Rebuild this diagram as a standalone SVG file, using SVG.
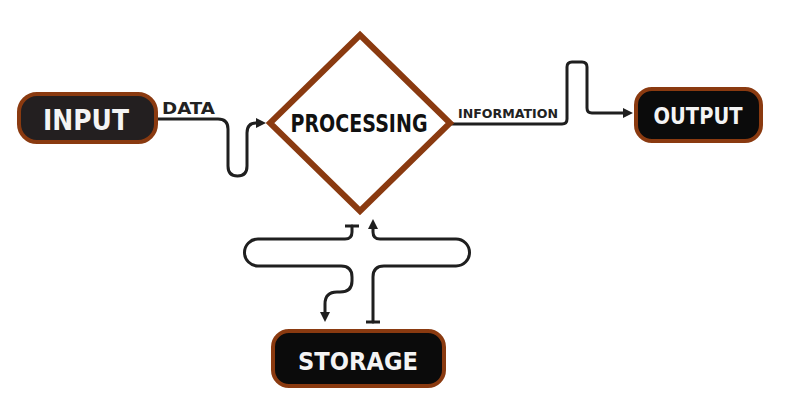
<svg xmlns="http://www.w3.org/2000/svg" width="795" height="412" viewBox="0 0 795 412">
<style>
.box{stroke:#8a3a10;stroke-width:4}
.lbl{font-family:"DejaVu Sans","Liberation Sans",sans-serif;font-weight:bold;text-anchor:middle}
.wt{fill:#f4f4f4}
.conn{fill:none;stroke:#1f1f1f;stroke-width:3;stroke-linecap:round;stroke-linejoin:round}
.bar{stroke:#1f1f1f;stroke-width:3}
.edge{font-family:"DejaVu Sans","Liberation Sans",sans-serif;font-weight:bold;fill:#222}
</style>
<defs>
<marker id="arr" markerUnits="userSpaceOnUse" markerWidth="11" markerHeight="11" refX="0" refY="5" orient="auto">
<path d="M0,0 L10,5 L0,10 z" fill="#1f1f1f"/>
</marker>
</defs>
<rect width="795" height="412" fill="#ffffff"/>
<g id="connectors">
<path class="conn" d="M157,119 H218 Q228,119 228,129 V166 Q228,176 237.5,176 Q247,176 247,166 V133 Q247,123 256,123" marker-end="url(#arr)"/>
<text class="edge" x="162" y="114" font-size="16" textLength="53" lengthAdjust="spacingAndGlyphs">DATA</text>
<path class="conn" d="M452,124 H562 Q567,124 567,119 V67 Q567,62 572,62 H582 Q587,62 587,67 V108 Q587,113 592,113 H623" marker-end="url(#arr)"/>
<text class="edge" x="458" y="118" font-size="13" textLength="100" lengthAdjust="spacingAndGlyphs">INFORMATION</text>
<line class="bar" x1="345" y1="226" x2="359" y2="226"/>
<path class="conn" d="M352,226 V232 Q352,239 345,239 H258 A13.5,13.5 0 0 0 258,266 H341 Q352,266 352,277 V281 Q352,292 340,292 H337 Q325,292 325,304 V312" marker-end="url(#arr)"/>
<path class="conn" d="M373,322 V277 Q373,266 384,266 H456 A13.5,13.5 0 0 0 456,239 H380 Q373,239 373,232 V229" marker-end="url(#arr)"/>
<line class="bar" x1="366" y1="322" x2="380" y2="322"/>
</g>
<g id="node-input">
<rect class="box" x="19" y="94" width="137" height="48" rx="18" fill="#231f20"/>
<text class="lbl wt" x="86" y="130" font-size="28" textLength="86" lengthAdjust="spacingAndGlyphs">INPUT</text>
</g>
<g id="node-processing">
<polygon points="360,35 450,123 360,211 270,123" fill="#ffffff" stroke="#8a3a10" stroke-width="6"/>
<text class="lbl" transform="translate(359,132) scale(1,1.12)" x="0" y="0" font-size="22" fill="#111" textLength="137" lengthAdjust="spacingAndGlyphs">PROCESSING</text>
</g>
<g id="node-output">
<rect class="box" x="636" y="89" width="125" height="52" rx="16" fill="#0b0b0b"/>
<text class="lbl wt" x="698" y="124" font-size="23" textLength="89" lengthAdjust="spacingAndGlyphs">OUTPUT</text>
</g>
<g id="node-storage">
<rect class="box" x="273" y="331" width="171" height="55" rx="16" fill="#0b0b0b"/>
<text class="lbl wt" x="358" y="370" font-size="25" textLength="120" lengthAdjust="spacingAndGlyphs">STORAGE</text>
</g>
</svg>
